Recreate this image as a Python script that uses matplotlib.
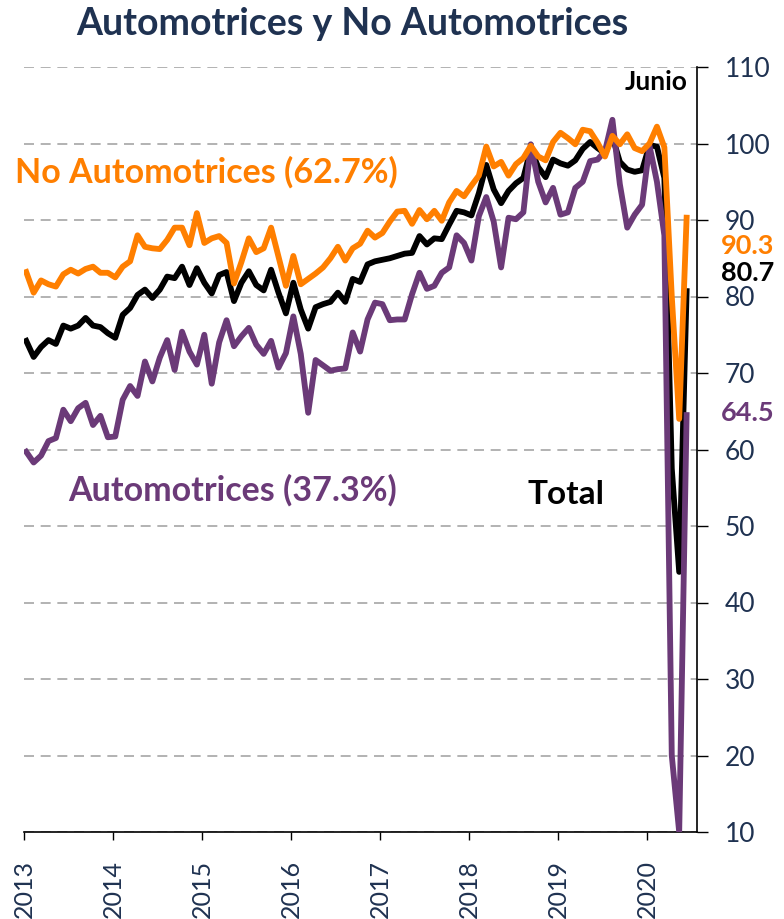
import numpy as np
import matplotlib.pyplot as plt

# monthly index, Jan 2013 - Jun 2020
years = ['2013', '2014', '2015', '2016', '2017', '2018', '2019', '2020']

no_auto = [83.2, 80.5, 82.1, 81.6, 81.3, 82.9, 83.5, 83.0, 83.6, 83.9, 83.1, 83.1,
           82.5, 83.9, 84.6, 88.0, 86.5, 86.3, 86.2, 87.4, 89.0, 89.0, 86.7, 90.9,
           87.0, 87.6, 87.9, 87.0, 81.7, 84.5, 87.6, 85.8, 86.3, 89.0, 85.2, 81.4,
           85.3, 81.6, 82.3, 83.0, 83.8, 85.0, 86.5, 84.7, 86.3, 86.9, 88.6, 87.7,
           88.3, 89.8, 91.1, 91.2, 89.5, 91.3, 90.1, 91.2, 89.9, 92.3, 93.8, 93.1,
           94.5, 95.8, 99.6, 97.0, 97.6, 95.8, 97.3, 98.1, 99.7, 98.3, 97.8, 100.2,
           101.4, 100.7, 99.9, 101.8, 101.6, 100.1, 98.3, 101.0, 99.9, 101.2, 99.4, 99.0,
           100.0, 102.2, 99.5, 80.0, 64.0, 90.3]

auto = [59.7, 58.3, 59.2, 61.1, 61.5, 65.2, 63.7, 65.4, 66.1, 63.2, 64.4, 61.6,
        61.7, 66.5, 68.3, 67.0, 71.5, 68.9, 72.0, 74.3, 70.4, 75.4, 72.8, 71.1,
        75.0, 68.6, 74.0, 76.9, 73.5, 74.8, 75.9, 73.7, 72.5, 74.2, 70.7, 72.6,
        77.4, 72.5, 64.8, 71.7, 71.0, 70.3, 70.5, 70.6, 75.3, 72.8, 77.0, 79.2,
        79.0, 76.9, 77.0, 77.0, 80.3, 83.1, 81.0, 81.4, 83.1, 83.8, 88.0, 87.0,
        84.7, 90.5, 93.0, 89.8, 83.8, 90.3, 90.1, 91.0, 99.9, 95.0, 92.3, 94.2,
        90.7, 91.0, 94.2, 95.0, 97.7, 97.9, 99.0, 103.1, 94.7, 89.0, 90.7, 92.0,
        99.7, 95.0, 88.0, 20.0, 10.0, 64.5]

total = [74.2, 72.1, 73.4, 74.3, 73.8, 76.2, 75.8, 76.2, 77.2, 76.2, 76.0, 75.2,
         74.6, 77.6, 78.5, 80.2, 80.9, 79.8, 80.9, 82.6, 82.4, 83.9, 81.5, 83.7,
         81.8, 80.4, 82.8, 83.2, 79.4, 81.8, 83.3, 81.5, 80.8, 83.5, 80.5, 77.8,
         81.8, 78.3, 75.8, 78.6, 79.0, 79.3, 80.5, 79.3, 82.3, 81.9, 84.2, 84.6,
         84.8, 85.0, 85.3, 85.6, 85.7, 87.9, 86.8, 87.6, 87.5, 89.4, 91.2, 91.0,
         90.6, 93.5, 97.2, 94.0, 92.2, 93.8, 94.8, 95.5, 99.3, 96.9, 95.6, 97.9,
         97.4, 97.1, 97.8, 99.3, 100.2, 99.4, 98.7, 100.9, 97.6, 96.6, 96.3, 96.5,
         99.8, 99.6, 95.5, 57.5, 44.0, 80.7]

orange = '#FF7F00'
purple = '#6B3A78'
navy = '#1F3251'
font = 'Lato'

x = np.arange(len(total)) + 0.3

fig = plt.figure(figsize=(7.84, 9.19), dpi=100)
ax = fig.add_axes([24/784, 1 - 832/919, (697 - 24)/784, (832 - 67)/919])

ax.plot(x, total, color='black', lw=4.2, solid_joinstyle='round', zorder=3)
ax.plot(x, auto, color=purple, lw=4.2, solid_joinstyle='round', zorder=4)
ax.plot(x, no_auto, color=orange, lw=4.2, solid_joinstyle='round', zorder=5)

ax.set_xlim(0, 90.7)
ax.set_ylim(10, 110)
ax.set_yticks(np.arange(10, 111, 10))
ax.set_xticks(np.arange(0, 85, 12))
ax.set_xticklabels(years, rotation=90, fontsize=18, color=navy, family=font)
ax.yaxis.tick_right()
for lab in ax.get_yticklabels():
    lab.set_fontsize(19)
    lab.set_color(navy)
    lab.set_family(font)
ax.tick_params(axis='y', direction='out', length=8, width=1, pad=12)
ax.tick_params(axis='x', direction='out', length=6, width=1, pad=14)

ax.grid(axis='y', color='#A6A6A6', linestyle=(0, (6, 4)), lw=1.2)
ax.set_axisbelow(True)
for s in ['left', 'top']:
    ax.spines[s].set_visible(False)
ax.spines['right'].set_linewidth(1.2)
ax.spines['bottom'].set_linewidth(1.2)

fig.text(352/784, 1 - 24/919, 'Automotrices y No Automotrices', ha='center', va='center',
         fontsize=27, fontweight='bold', color=navy, family=font)
fig.text(15/784, 1 - 172/919, 'No Automotrices (62.7%)', ha='left', va='center',
         fontsize=24.5, fontweight='bold', color=orange, family=font)
fig.text(68/784, 1 - 490/919, 'Automotrices (37.3%)', ha='left', va='center',
         fontsize=24.5, fontweight='bold', color=purple, family=font)
fig.text(527/784, 1 - 495/919, 'Total', ha='left', va='center',
         fontsize=24, fontweight='bold', color='black', family=font)
fig.text(688/784, 1 - 82/919, 'Junio', ha='right', va='center',
         fontsize=19, fontweight='bold', color='black', family=font)
fig.text(721/784, 1 - 246/919, '90.3', ha='left', va='center',
         fontsize=19.5, fontweight='bold', color=orange, family=font)
fig.text(721/784, 1 - 273/919, '80.7', ha='left', va='center',
         fontsize=19.5, fontweight='bold', color='black', family=font)
fig.text(721/784, 1 - 413/919, '64.5', ha='left', va='center',
         fontsize=19.5, fontweight='bold', color=purple, family=font)

fig.savefig('out.png', dpi=100)
